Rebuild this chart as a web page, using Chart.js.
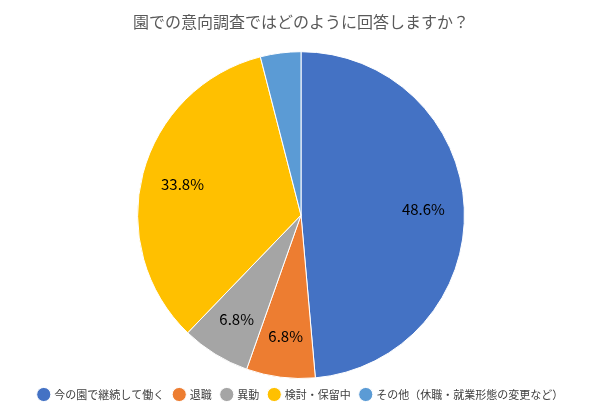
<!DOCTYPE html>
<html>
<head>
<meta charset="utf-8">
<script src="https://cdn.jsdelivr.net/npm/chart.js@4"></script>
<style>
  body { margin: 0; background: #fff; }
  #wrap { width: 602px; height: 420px; }
</style>
</head>
<body>
<div id="wrap"><canvas id="pieChart"></canvas></div>
<script>
var labels = ['今の園で継続して働く', '退職', '異動', '検討・保留中', 'その他（休職・就業形態の変更など）'];
var values = [48.6, 6.8, 6.8, 33.8, 4.0];
var colors = ['#4472C4', '#ED7D31', '#A5A5A5', '#FFC000', '#5B9BD5'];
var FONT = "'Noto Sans CJK JP', 'Noto Sans', sans-serif";

// percentage labels drawn inside slices (skip the smallest one)
var sliceLabels = {
  id: 'sliceLabels',
  afterDatasetsDraw: function (chart) {
    var ctx = chart.ctx;
    var meta = chart.getDatasetMeta(0);
    ctx.save();
    ctx.font = '15px ' + FONT;
    ctx.fillStyle = '#000';
    ctx.textAlign = 'center';
    ctx.textBaseline = 'middle';
    meta.data.forEach(function (arc, i) {
      if (values[i] < 5) return;
      var mid = (arc.startAngle + arc.endAngle) / 2;
      var r = arc.outerRadius * 0.75;
      ctx.fillText(values[i].toFixed(1) + '%', arc.x + Math.cos(mid) * r, arc.y + Math.sin(mid) * r);
    });
    ctx.restore();
  }
};

new Chart(document.getElementById('pieChart').getContext('2d'), {
  type: 'pie',
  data: {
    labels: labels,
    datasets: [{
      data: values,
      backgroundColor: colors,
      borderColor: '#fff',
      borderWidth: 1
    }]
  },
  options: {
    responsive: true,
    maintainAspectRatio: false,
    animation: false,
    layout: { padding: { top: 0, bottom: 10 } },
    plugins: {
      title: {
        display: true,
        text: '園での意向調査ではどのように回答しますか？',
        color: '#595959',
        font: { family: FONT, size: 16, weight: 'normal' },
        padding: { top: 12, bottom: 20 }
      },
      legend: {
        position: 'bottom',
        labels: {
          usePointStyle: true,
          pointStyle: 'circle',
          boxWidth: 10,
          boxHeight: 10,
          padding: 10,
          color: '#404040',
          font: { family: FONT, size: 11 }
        }
      },
      tooltip: { enabled: false }
    }
  },
  plugins: [sliceLabels]
});
</script>
</body>
</html>
